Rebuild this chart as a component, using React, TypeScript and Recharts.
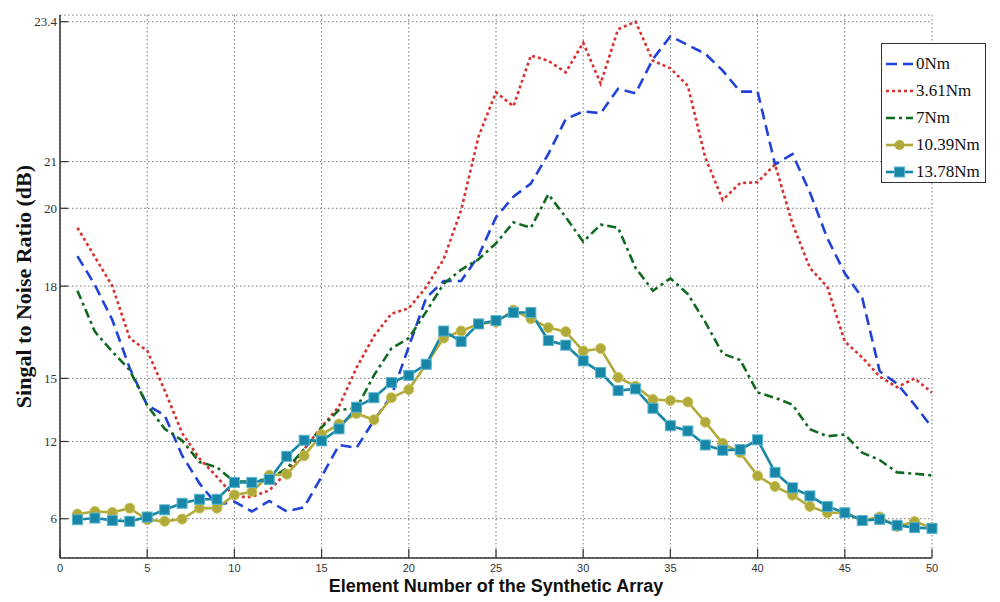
import { CartesianGrid, Legend, Line, LineChart, XAxis, YAxis } from "recharts";

const ELEMENTS = [
  1, 2, 3, 4, 5, 6, 7, 8, 9, 10, 11, 12, 13, 14, 15, 16, 17, 18, 19, 20, 21, 22, 23, 24, 25,
  26, 27, 28, 29, 30, 31, 32, 33, 34, 35, 36, 37, 38, 39, 40, 41, 42, 43, 44, 45, 46, 47, 48, 49, 50,
];

const SNR_0NM = [
  18.77, 18.03, 16.9, 15.33, 13.72, 13.25, 10.92, 8.74, 7.08, 7.33, 6.56, 7.38, 6.56, 6.9, 9.28,
  11.73, 11.5, 13.0, 14.17, 16.03, 17.62, 18.13, 18.13, 18.78, 19.77, 20.25, 20.53, 21.13, 21.73,
  21.86, 21.83, 22.25, 22.17, 22.76, 23.15, 23.0, 22.85, 22.56, 22.2, 22.2, 20.94, 21.13, 20.34,
  19.23, 18.33, 17.62, 15.23, 14.75, 13.75, 12.67,
];
const SNR_361NM = [
  19.5, 18.75, 18.0, 16.3, 15.9, 14.44, 12.4, 10.67, 9.26, 7.7, 7.7, 8.2, 9.6, 11.4, 12.7, 13.67,
  15.34, 16.37, 17.1, 17.28, 17.97, 18.69, 19.95, 21.43, 22.19, 21.95, 22.82, 22.73, 22.53, 23.04,
  22.34, 23.27, 23.4, 22.73, 22.6, 22.3, 21.07, 20.18, 20.54, 20.56, 20.94, 19.6, 18.47, 17.97,
  16.2, 15.68, 15.06, 14.58, 15.0, 14.33,
];
const SNR_7NM = [
  17.85, 16.52, 15.87, 15.27, 13.72, 12.6, 12.05, 10.4, 10.0, 8.87, 8.9, 9.1, 9.9, 11.4, 12.67,
  13.5, 13.58, 15.1, 15.97, 16.31, 17.17, 18.06, 18.42, 18.69, 19.1, 19.64, 19.5, 20.3, 19.77,
  19.14, 19.58, 19.5, 18.47, 17.85, 18.2, 17.74, 16.83, 15.8, 15.6, 14.33, 14.08, 13.75, 12.58,
  12.25, 12.33, 11.13, 10.56, 9.6, 9.5, 9.36,
];
const SNR_1039NM = [
  6.36, 6.56, 6.49, 6.82, 5.92, 5.8, 5.97, 6.82, 6.82, 7.85, 8.1, 9.38, 9.46, 10.9, 12.33, 12.83,
  13.33, 13.03, 14.08, 14.47, 15.46, 16.31, 16.54, 16.77, 16.83, 17.22, 16.94, 16.65, 16.52, 15.89,
  15.97, 15.03, 14.63, 14.0, 13.95, 13.88, 12.92, 11.86, 11.13, 9.33, 8.5, 7.83, 6.95, 6.46, 6.46,
  5.86, 6.14, 5.4, 5.78, 5.32,
];
const SNR_1378NM = [
  5.92, 6.05, 5.87, 5.8, 6.13, 6.69, 7.2, 7.51, 7.51, 8.82, 8.82, 9.05, 10.85, 12.06, 12.03, 12.6,
  13.63, 14.08, 14.8, 15.1, 15.46, 16.54, 16.2, 16.77, 16.88, 17.14, 17.14, 16.23, 16.08, 15.57,
  15.19, 14.42, 14.5, 13.58, 12.75, 12.5, 11.73, 11.32, 11.37, 12.08, 9.6, 8.4, 7.77, 6.95, 6.46,
  5.86, 5.95, 5.5, 5.32, 5.26,
];

const X_TICKS = [0, 5, 10, 15, 20, 25, 30, 35, 40, 45, 50];
const Y_TICKS = [6, 12, 15, 18, 20, 21, 23.4];
const Y_TICK_LABELS = ["6", "12", "15", "18", "20", "21", "23.4"];

// the original y axis is not linear: tick labels sit at uneven spacing,
// so values are warped piecewise between the labelled ticks
const SCALE_VALUES = [3, 6, 12, 15, 18, 20, 21, 23.4, 23.52];
const SCALE_POS = [0, 39.3, 116.5, 179.6, 271.9, 349.7, 396.4, 536.3, 543];

function warp(v: number) {
  for (let i = 1; i < SCALE_VALUES.length; i++) {
    if (v <= SCALE_VALUES[i] || i === SCALE_VALUES.length - 1) {
      const v0 = SCALE_VALUES[i - 1];
      const v1 = SCALE_VALUES[i];
      const t = (v - v0) / (v1 - v0);
      return SCALE_POS[i - 1] + t * (SCALE_POS[i] - SCALE_POS[i - 1]);
    }
  }
  return 0;
}

const SERIES = [
  { key: "s0", name: "0Nm", values: SNR_0NM, color: "#2042d8", dash: "11 6" },
  { key: "s1", name: "3.61Nm", values: SNR_361NM, color: "#d8302e", dash: "3 3" },
  { key: "s2", name: "7Nm", values: SNR_7NM, color: "#0f6a20", dash: "9 4 3 4" },
  { key: "s3", name: "10.39Nm", values: SNR_1039NM, color: "#b1aa3a", dash: undefined, marker: "circle" },
  { key: "s4", name: "13.78Nm", values: SNR_1378NM, color: "#1786a7", dash: undefined, marker: "square" },
];

const data = ELEMENTS.map((x, i) => {
  const row: Record<string, number> = { x };
  SERIES.forEach((s) => {
    row[s.key] = warp(s.values[i]);
    row[s.key + "_raw"] = s.values[i];
  });
  return row;
});

const tickFont = { fontFamily: "Liberation Serif", fontSize: 13, fill: "#333" };

function YTick(props: any) {
  const { x, y, index } = props;
  return (
    <g>
      <line x1={x + 3} x2={x + 11} y1={y} y2={y} stroke="#333" strokeWidth={1.2} />
      <text x={x} y={y} textAnchor="end" dominantBaseline="central" {...tickFont}>
        {Y_TICK_LABELS[index]}
      </text>
    </g>
  );
}

function XTick(props: any) {
  const { x, y, payload } = props;
  return (
    <g>
      <line x1={x} x2={x} y1={y} y2={y - 9} stroke="#333" strokeWidth={1.2} />
      <text x={x} y={y + 14} textAnchor="middle" fontFamily="Liberation Sans" fontSize={11} fill="#333">
        {payload.value}
      </text>
    </g>
  );
}

function makeDot(marker: string, color: string) {
  return (p: any) => {
    const { cx, cy, index } = p;
    if (cx == null || cy == null) return <g key={index} />;
    if (marker === "circle") {
      return <circle key={index} cx={cx} cy={cy} r={5} fill={color} stroke="#c8c25a" strokeWidth={1} />;
    }
    return (
      <rect key={index} x={cx - 5} y={cy - 5} width={10} height={10} fill={color} stroke="#58b4cf" strokeWidth={1} />
    );
  };
}

function LegendBox() {
  return (
    <div
      style={{
        width: 105,
        height: 140,
        border: "1px solid #333",
        background: "#fff",
        boxSizing: "border-box",
        paddingTop: 6,
        fontFamily: "Liberation Serif",
        fontSize: 17,
        color: "#111",
      }}
    >
      {SERIES.map((s) => (
        <div key={s.key} style={{ height: 27, display: "flex", alignItems: "center" }}>
          <svg width={34} height={14} style={{ flex: "none" }}>
            <line x1={4} x2={31} y1={7} y2={7} stroke={s.color} strokeWidth={2.6} strokeDasharray={s.dash} />
            {s.marker === "circle" && <circle cx={17.5} cy={7} r={5} fill={s.color} />}
            {s.marker === "square" && <rect x={12.5} y={2} width={10} height={10} fill={s.color} stroke="#58b4cf" />}
          </svg>
          <span>{s.name}</span>
        </div>
      ))}
    </div>
  );
}

export default function App() {
  return (
    <div style={{ position: "absolute", left: 0, top: 0, width: 1000, height: 602, background: "#fff" }}>
      <LineChart width={1000} height={602} data={data} margin={{ top: 15, right: 68, bottom: 0, left: 0 }}>
        <CartesianGrid stroke="#777" strokeDasharray="1.5 2.5" strokeWidth={1} />
        <XAxis
          dataKey="x"
          type="number"
          domain={[0, 50]}
          ticks={X_TICKS}
          height={44}
          tickSize={0}
          tickMargin={0}
          tick={XTick}
          axisLine={{ stroke: "#333", strokeWidth: 1.5 }}
          tickLine={false}
          label={(p: any) => (
            <text
              x={p.viewBox.x + p.viewBox.width / 2}
              y={p.viewBox.y + 34}
              textAnchor="middle"
              fontFamily="Liberation Sans"
              fontWeight="bold"
              fontSize={18}
              fill="#111"
            >
              Element Number of the Synthetic Array
            </text>
          )}
        />
        <YAxis
          type="number"
          domain={[0, 543]}
          ticks={Y_TICKS.map(warp)}
          width={60}
          tickSize={0}
          tickMargin={3}
          tick={YTick}
          axisLine={{ stroke: "#333", strokeWidth: 1.5 }}
          tickLine={false}
          allowDataOverflow
          label={(p: any) => {
            const cx = 31;
            const cy = p.viewBox.y + p.viewBox.height / 2;
            return (
              <text
                x={cx}
                y={cy}
                transform={`rotate(-90 ${cx} ${cy})`}
                textAnchor="middle"
                fontFamily="Liberation Serif"
                fontWeight="bold"
                fontSize={22}
                fill="#111"
              >
                Singal to Noise Ratio (dB)
              </text>
            );
          }}
        />
        <Legend
          layout="vertical"
          align="center"
          verticalAlign="middle"
          wrapperStyle={{ left: 881, top: 43, width: 105, height: 140 }}
          content={() => <LegendBox />}
        />
        {SERIES.map((s) => (
          <Line
            key={s.key}
            dataKey={s.key}
            name={s.name}
            type="linear"
            stroke={s.color}
            strokeWidth={2.6}
            strokeDasharray={s.dash}
            dot={s.marker ? makeDot(s.marker, s.color) : false}
            activeDot={false}
            isAnimationActive={false}
          />
        ))}
      </LineChart>
    </div>
  );
}
